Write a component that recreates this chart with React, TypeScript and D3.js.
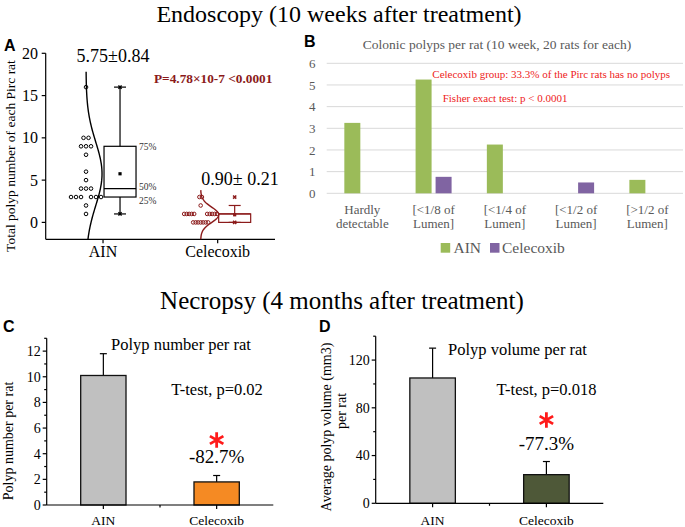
import React from "react";
import * as d3 from "d3";

const serif = "'Liberation Serif', 'Times New Roman', serif";
const sans = "'Liberation Sans', Arial, sans-serif";

// ---- panel A: polyps per rat at endoscopy
const groupsA = ["AIN", "Celecoxib"];
const ainPolyps = [16, 10, 10, 9, 9, 9, 8, 6, 5, 4, 4, 4, 3, 3, 3, 3, 3, 3, 2, 1];
const celPolyps = [3, 3, 2, 1, 1, 1, 1, 1, 1, 1, 1, 1, 1, 0, 0, 0, 0, 0, 0, 0];
const meanSemA = ["5.75\u00b10.84", "0.90\u00b1 0.21"];
const yTicksA = [0, 5, 10, 15, 20];

// ---- panel B: polyp size classes
const sizeCats = [
  ["Hardly", "detectable"],
  ["[<1/8 of", "Lumen]"],
  ["[<1/4 of", "Lumen]"],
  ["[<1/2 of", "Lumen]"],
  ["[>1/2 of", "Lumen]"],
];
const ainBySize = [3.25, 5.25, 2.25, 0, 0.62];
const celBySize = [0, 0.76, 0, 0.5, 0];
const yTicksB = [0, 1, 2, 3, 4, 5, 6];

// ---- panels C, D: necropsy
const groupsCD = ["AIN", "Celecoxib"];
const polypNumMean = [10.1, 1.8];
const polypNumErr = [1.7, 0.5];
const polypVolMean = [105, 24];
const polypVolErr = [25, 11];

const darkRed = "#8b1a1a";

function rowOffsets(n: number, spacing: number, gap: number) {
  const offs = d3.range(n).map((i) => (i - (n - 1) / 2) * spacing);
  if (n >= 6 && n % 2 === 0) {
    return offs.map((o, i) => o + (i < n / 2 ? -1 : 1) * (gap - spacing) / 2);
  }
  return offs;
}

function PanelA() {
  const x = d3.scalePoint<string>().domain(groupsA).range([45.7, 275]).padding(0.5);
  const y = d3.scaleLinear().domain([-2, 20]).range([239.3, 53.3]);
  const series = [
    { name: "AIN", values: ainPolyps, color: "#000", spacing: 5, gap: 10, amp: 16 },
    { name: "Celecoxib", values: celPolyps, color: darkRed, spacing: 2.5, gap: 13, amp: 18 },
  ];
  const line = d3.line();
  return (
    <g>
      <text x={4} y={50.5} fontFamily={sans} fontWeight="bold" fontSize={16}>A</text>
      <text transform="translate(14.5,156) rotate(-90)" textAnchor="middle" fontFamily={serif} fontSize={13.5}>
        Total polyp number of each Pirc rat
      </text>
      {/* axes */}
      <line x1={45.7} x2={45.7} y1={y(20)} y2={y(-2)} stroke="#000" strokeWidth={1.2} />
      <line x1={45.7} x2={275} y1={y(-2)} y2={y(-2)} stroke="#000" strokeWidth={1.2} />
      {yTicksA.map((t) => (
        <g key={t}>
          <line x1={41.7} x2={45.7} y1={y(t)} y2={y(t)} stroke="#000" strokeWidth={1.2} />
          <text x={38} y={y(t)} dy="0.35em" textAnchor="end" fontFamily={serif} fontSize={16}>{t}</text>
        </g>
      ))}
      {groupsA.map((g) => (
        <g key={g}>
          <line x1={x(g)} x2={x(g)} y1={y(-2)} y2={y(-2) + 4} stroke="#000" strokeWidth={1.2} />
          <text x={x(g)} y={257} textAnchor="middle" fontFamily={serif} fontSize={16}>{g}</text>
        </g>
      ))}
      {series.map((s) => {
        const tick = x(s.name) as number;
        const base = tick - 17;
        const sorted = s.values.slice().sort(d3.ascending);
        const q1 = d3.quantile(sorted, 0.25) as number;
        const med = d3.quantile(sorted, 0.5) as number;
        const q3 = d3.quantile(sorted, 0.75) as number;
        const iqr = q3 - q1;
        const wLo = d3.min(sorted.filter((v) => v >= q1 - 1.5 * iqr)) as number;
        const wHi = d3.max(sorted.filter((v) => v <= q3 + 1.5 * iqr)) as number;
        const mean = d3.mean(sorted) as number;
        const sd = d3.deviation(sorted) as number;
        const lo = Math.max(-2, mean - 3.2 * sd);
        const hi = mean + 3.2 * sd;
        const curve = d3.range(0, 101).map((i) => {
          const v = lo + ((hi - lo) * i) / 100;
          return [base + s.amp * Math.exp(-0.5 * ((v - mean) / sd) ** 2), y(v)] as [number, number];
        });
        const counts = d3.rollups(s.values, (v) => v.length, (v) => v);
        const bx0 = tick + 1, bx1 = tick + 33, bc = tick + 17;
        const xm = (cx: number, cy: number, r: number) => `M${cx - r},${cy - r}L${cx + r},${cy + r}M${cx - r},${cy + r}L${cx + r},${cy - r}`;
        return (
          <g key={s.name} stroke={s.color} fill="none" strokeWidth={1.2}>
            <path d={line(curve) as string} strokeWidth={1.4} />
            {counts.map(([val, n]) =>
              rowOffsets(n, s.spacing, s.gap).map((o, i) => (
                <circle key={`${val}-${i}`} cx={base + o} cy={y(val)} r={1.8} strokeWidth={1} />
              ))
            )}
            <rect x={bx0} y={y(q3)} width={bx1 - bx0} height={y(q1) - y(q3)} />
            <line x1={bx0} x2={bx1} y1={y(med)} y2={y(med)} />
            <line x1={bc} x2={bc} y1={y(q3)} y2={y(wHi)} />
            <line x1={bc} x2={bc} y1={y(q1)} y2={y(wLo)} />
            <line x1={bc - 6} x2={bc + 6} y1={y(wHi)} y2={y(wHi)} />
            <line x1={bc - 6} x2={bc + 6} y1={y(wLo)} y2={y(wLo)} />
            <path d={xm(bc, y(d3.max(sorted) as number), 1.6) + xm(bc, y(d3.min(sorted) as number), 1.6)} strokeWidth={1.5} />
            <rect x={bc - 1.6} y={y(mean) - 1.6} width={3.2} height={3.2} fill={s.color} stroke="none" />
            {s.name === "AIN" && (
              <g fill="#333" stroke="none" fontFamily={serif} fontSize={9.5}>
                <text x={tick + 36} y={y(q3) + 3.5}>75%</text>
                <text x={tick + 36} y={y(med) + 1.5}>50%</text>
                <text x={tick + 36} y={y(q1) + 7}>25%</text>
              </g>
            )}
          </g>
        );
      })}
      <text x={113} y={62} textAnchor="middle" fontFamily={serif} fontSize={18}>{meanSemA[0]}</text>
      <text x={240} y={185} textAnchor="middle" fontFamily={serif} fontSize={18}>{meanSemA[1]}</text>
      <text x={154} y={83} fontFamily={serif} fontWeight="bold" fontSize={13.3} fill={darkRed}>
        P=4.78×10-7 &lt;0.0001
      </text>
    </g>
  );
}

function PanelB() {
  const x = d3.scaleBand<number>().domain(d3.range(sizeCats.length)).range([326.7, 683]);
  const y = d3.scaleLinear().domain([0, 6]).range([193.3, 63.3]);
  const grey = "#595959";
  const bars = [
    { name: "AIN", values: ainBySize, color: "#9bbb59", off: -18 },
    { name: "Celecoxib", values: celBySize, color: "#8064a2", off: 2 },
  ];
  return (
    <g>
      <text x={304} y={46.7} fontFamily={sans} fontWeight="bold" fontSize={16}>B</text>
      <text x={497} y={48.5} textAnchor="middle" fontFamily={serif} fontSize={13.5} fill={grey}>
        Colonic polyps per rat (10 week, 20 rats for each)
      </text>
      {yTicksB.map((t) => (
        <g key={t}>
          <line x1={326.7} x2={683} y1={y(t)} y2={y(t)} stroke="#d9d9d9" strokeWidth={1} />
          <text x={315.5} y={y(t)} dy="0.35em" textAnchor="end" fontFamily={serif} fontSize={13} fill={grey}>{t}</text>
        </g>
      ))}
      {bars.map((b) =>
        b.values.map((v, i) => {
          const cx = (x(i) as number) + x.bandwidth() / 2;
          return v > 0 ? (
            <rect key={`${b.name}-${i}`} x={cx + b.off} y={y(v)} width={16} height={y(0) - y(v)} fill={b.color} />
          ) : null;
        })
      )}
      {sizeCats.map((lines, i) => (
        <text key={i} x={(x(i) as number) + x.bandwidth() / 2} textAnchor="middle" fontFamily={serif} fontSize={13} fill={grey}>
          {lines.map((l, j) => (
            <tspan key={j} x={(x(i) as number) + x.bandwidth() / 2} y={213.5 + j * 14}>{l}</tspan>
          ))}
        </text>
      ))}
      <g fontFamily={serif} fontSize={11} fill="#ee2222">
        <text x={432.3} y={78}>Celecoxib group: 33.3% of the Pirc rats has no polyps</text>
        <text x={442.7} y={102.3}>Fisher exact test: p &lt; 0.0001</text>
      </g>
      {bars.map((b, i) => (
        <g key={b.name}>
          <rect x={440.7 + i * 49.3} y={243} width={9.5} height={9.7} fill={b.color} />
          <text x={453.5 + i * 48.5} y={252.7} fontFamily={serif} fontSize={15.5} fill={grey}>{b.name}</text>
        </g>
      ))}
    </g>
  );
}

type BarProps = {
  letter: string;
  letterX: number;
  x0: number;
  x1: number;
  yMax: number;
  yBottom: number;
  yTop: number;
  major: number;
  means: number[];
  errs: number[];
  colors: string[];
  yLabel: string[];
  yLabelPos: [number, number][];
  title: string;
  titlePos: [number, number];
  test: string;
  testPos: [number, number];
  change: string;
  changeY: number;
  starY: number;
};

function BarPanel(p: BarProps) {
  const x = d3.scalePoint<string>().domain(groupsCD).range([p.x0, p.x1]).padding(0.5);
  const y = d3.scaleLinear().domain([0, p.yMax]).range([p.yBottom, p.yTop]);
  const majors = d3.range(0, p.yMax + 1e-9, p.major);
  const minors = d3.range(p.major / 2, p.yMax + 1e-9, p.major);
  const bw = x.step() * 0.4;
  const cel = x("Celecoxib") as number;
  const star = d3.symbol(d3.symbolAsterisk, 170)();
  return (
    <g fontFamily={serif}>
      <text x={p.letterX} y={332} fontFamily={sans} fontWeight="bold" fontSize={16}>{p.letter}</text>
      {p.yLabel.map((l, i) => (
        <text key={i} transform={`translate(${p.yLabelPos[i][0]},${p.yLabelPos[i][1]}) rotate(-90)`} textAnchor="middle" fontSize={14}>{l}</text>
      ))}
      {groupsCD.map((g, i) => {
        const cx = x(g) as number;
        const top = y(p.means[i]);
        const etop = y(p.means[i] + p.errs[i]);
        return (
          <g key={g}>
            <line x1={cx} x2={cx} y1={top} y2={etop} stroke="#000" strokeWidth={1.2} />
            <line x1={cx - 3.5} x2={cx + 3.5} y1={etop} y2={etop} stroke="#000" strokeWidth={1.2} />
            <rect x={cx - bw / 2} y={top} width={bw} height={y(0) - top} fill={p.colors[i]} stroke="#111" strokeWidth={1.3} />
            <line x1={cx} x2={cx} y1={y(0)} y2={y(0) + 4} stroke="#000" strokeWidth={1.2} />
            <text x={cx} y={525} textAnchor="middle" fontSize={13.5}>{g}</text>
          </g>
        );
      })}
      <line x1={(p.x0 + p.x1) / 2} x2={(p.x0 + p.x1) / 2} y1={y(0)} y2={y(0) + 2.5} stroke="#000" strokeWidth={1.2} />
      <line x1={p.x0} x2={p.x0} y1={y(p.yMax)} y2={y(0)} stroke="#000" strokeWidth={1.2} />
      <line x1={p.x0} x2={p.x1} y1={y(0)} y2={y(0)} stroke="#000" strokeWidth={1.2} />
      {majors.map((t) => (
        <g key={t}>
          <line x1={p.x0 - 4} x2={p.x0} y1={y(t)} y2={y(t)} stroke="#000" strokeWidth={1.2} />
          <text x={p.x0 - 6} y={y(t)} dy="0.35em" textAnchor="end" fontSize={14}>{t}</text>
        </g>
      ))}
      {minors.map((t) => (
        <line key={t} x1={p.x0 - 2.5} x2={p.x0} y1={y(t)} y2={y(t)} stroke="#000" strokeWidth={1.2} />
      ))}
      <text x={p.titlePos[0]} y={p.titlePos[1]} textAnchor="middle" fontSize={16.5}>{p.title}</text>
      <text x={p.testPos[0]} y={p.testPos[1]} textAnchor="middle" fontSize={16.5}>{p.test}</text>
      <path d={star as string} transform={`translate(${cel},${p.starY})`} fill="none" stroke="#ff1a1a" strokeWidth={2.8} />
      <text x={cel} y={p.changeY} textAnchor="middle" fontSize={19}>{p.change}</text>
    </g>
  );
}

export default function App() {
  return (
    <div style={{ position: "absolute", left: 0, top: 0 }}>
      <svg width={685} height={527} style={{ display: "block", background: "#fff" }}>
        <text x={339} y={22} textAnchor="middle" fontFamily={serif} fontSize={24}>
          Endoscopy (10 weeks after treatment)
        </text>
        <text x={342} y={309} textAnchor="middle" fontFamily={serif} fontSize={25}>
          Necropsy (4 months after treatment)
        </text>
        <PanelA />
        <PanelB />
        <BarPanel
          letter="C" letterX={3} x0={46.7} x1={273.3} yMax={13} yBottom={505} yTop={338.3} major={2}
          means={polypNumMean} errs={polypNumErr} colors={["#c0c0c0", "#f58a23"]}
          yLabel={["Polyp number per rat"]} yLabelPos={[[13, 441]]}
          title="Polyp number per rat" titlePos={[181, 350]}
          test="T-test, p=0.02" testPos={[217, 395]}
          change="-82.7%" changeY={463} starY={440}
        />
        <BarPanel
          letter="D" letterX={319} x0={375.7} x1={603.3} yMax={140} yBottom={503.3} yTop={336.2} major={40}
          means={polypVolMean} errs={polypVolErr} colors={["#c0c0c0", "#4e5838"]}
          yLabel={["Average polyp volume (mm3)", "per rat"]} yLabelPos={[[331, 427], [346, 411]]}
          title="Polyp volume per rat" titlePos={[517.5, 355]}
          test="T-test, p=0.018" testPos={[546.5, 395]}
          change="-77.3%" changeY={450} starY={420}
        />
      </svg>
    </div>
  );
}
